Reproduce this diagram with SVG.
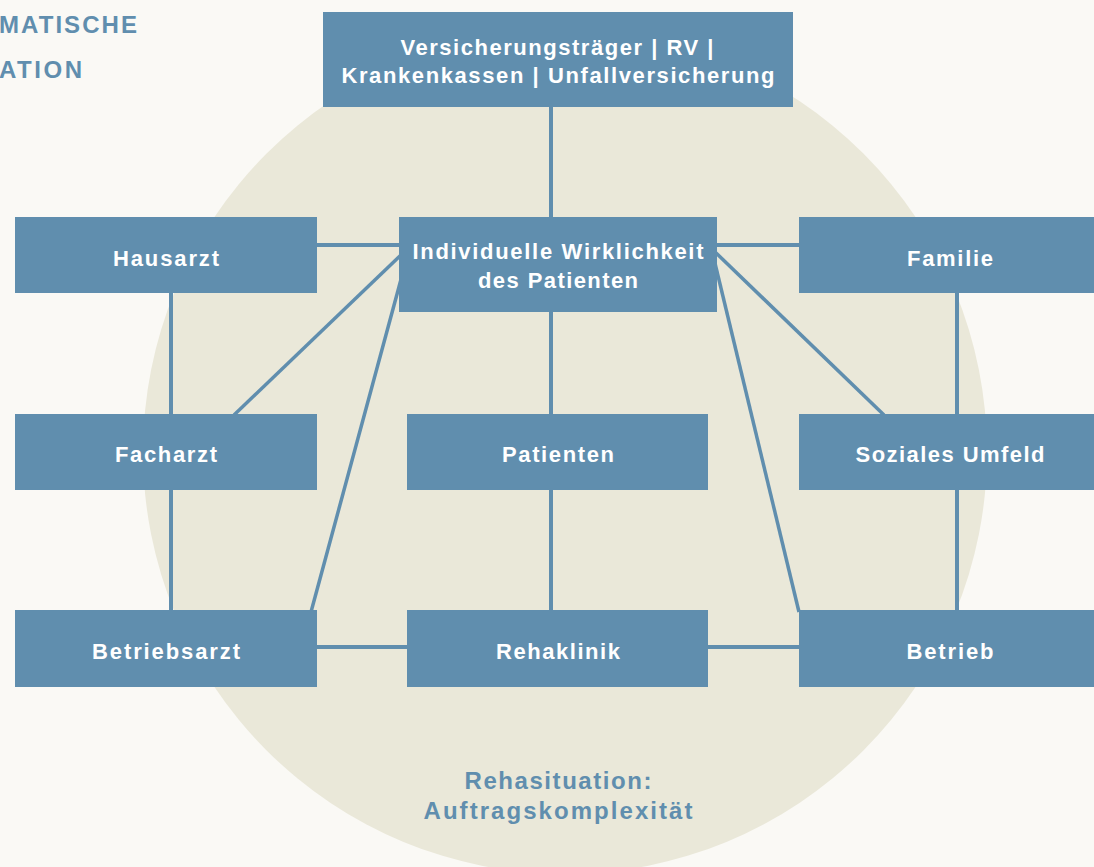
<svg xmlns="http://www.w3.org/2000/svg" width="1094" height="867" viewBox="0 0 1094 867">
<style>
.box{fill:#608EAE}
.lbl{font-family:"Liberation Sans",Arial,sans-serif;font-weight:bold;font-size:22px;fill:#FFFFFF;text-anchor:middle}
.ttl{font-family:"Liberation Sans",Arial,sans-serif;font-weight:bold;font-size:24px;fill:#608EAE}
.cn{stroke:#608EAE;stroke-width:4;fill:none}
.dg{stroke:#608EAE;stroke-width:3.5;fill:none}
</style>
<rect x="0" y="0" width="1094" height="867" fill="#FAF9F5"/>
<circle cx="565" cy="452" r="422" fill="#EAE8D9"/>
<g id="title">
<text class="ttl" x="-1" y="33" textLength="138" lengthAdjust="spacing">MATISCHE</text>
<text class="ttl" x="-1" y="78" textLength="83" lengthAdjust="spacing">ATION</text>
</g>
<g id="connectors">
<line class="cn" x1="551" y1="100" x2="551" y2="220"/>
<line class="cn" x1="551" y1="305" x2="551" y2="615"/>
<line class="cn" x1="310" y1="245" x2="405" y2="245"/>
<line class="cn" x1="710" y1="245" x2="805" y2="245"/>
<line class="cn" x1="171" y1="290" x2="171" y2="615"/>
<line class="cn" x1="957" y1="290" x2="957" y2="615"/>
<line class="cn" x1="310" y1="647" x2="410" y2="647"/>
<line class="cn" x1="705" y1="647" x2="805" y2="647"/>
<line class="dg" x1="402" y1="254" x2="234" y2="415"/>
<line class="dg" x1="403" y1="272" x2="311" y2="612"/>
<line class="dg" x1="713" y1="250" x2="884" y2="415"/>
<line class="dg" x1="713" y1="255" x2="799" y2="612"/>
</g>
<g id="versicherung">
<rect class="box" x="323" y="12" width="470" height="95"/>
<text class="lbl" x="557" y="55" textLength="313" lengthAdjust="spacing">Versicherungsträger | RV |</text>
<text class="lbl" x="558" y="83" textLength="433" lengthAdjust="spacing">Krankenkassen | Unfallversicherung</text>
</g>
<g id="individuelle">
<rect class="box" x="399" y="217" width="318" height="95"/>
<text class="lbl" x="558" y="259" textLength="291" lengthAdjust="spacing">Individuelle Wirklichkeit</text>
<text class="lbl" x="558" y="288" textLength="160" lengthAdjust="spacing">des Patienten</text>
</g>
<g id="hausarzt">
<rect class="box" x="15" y="217" width="302" height="76"/>
<text class="lbl" x="166" y="266" textLength="106" lengthAdjust="spacing">Hausarzt</text>
</g>
<g id="familie">
<rect class="box" x="799" y="217" width="302" height="76"/>
<text class="lbl" x="950" y="266" textLength="86" lengthAdjust="spacing">Familie</text>
</g>
<g id="facharzt">
<rect class="box" x="15" y="414" width="302" height="76"/>
<text class="lbl" x="166" y="462" textLength="102" lengthAdjust="spacing">Facharzt</text>
</g>
<g id="patienten">
<rect class="box" x="407" y="414" width="301" height="76"/>
<text class="lbl" x="558" y="462" textLength="112" lengthAdjust="spacing">Patienten</text>
</g>
<g id="sozial">
<rect class="box" x="799" y="414" width="302" height="76"/>
<text class="lbl" x="950" y="462" textLength="189" lengthAdjust="spacing">Soziales Umfeld</text>
</g>
<g id="betriebsarzt">
<rect class="box" x="15" y="610" width="302" height="77"/>
<text class="lbl" x="166" y="659" textLength="148" lengthAdjust="spacing">Betriebsarzt</text>
</g>
<g id="rehaklinik">
<rect class="box" x="407" y="610" width="301" height="77"/>
<text class="lbl" x="558" y="659" textLength="124" lengthAdjust="spacing">Rehaklinik</text>
</g>
<g id="betrieb">
<rect class="box" x="799" y="610" width="302" height="77"/>
<text class="lbl" x="950" y="659" textLength="87" lengthAdjust="spacing">Betrieb</text>
</g>
<g id="caption">
<text class="ttl" x="558" y="789" text-anchor="middle" textLength="187" lengthAdjust="spacing">Rehasituation:</text>
<text class="ttl" x="558" y="819" text-anchor="middle" textLength="269" lengthAdjust="spacing">Auftragskomplexität</text>
</g>
</svg>
